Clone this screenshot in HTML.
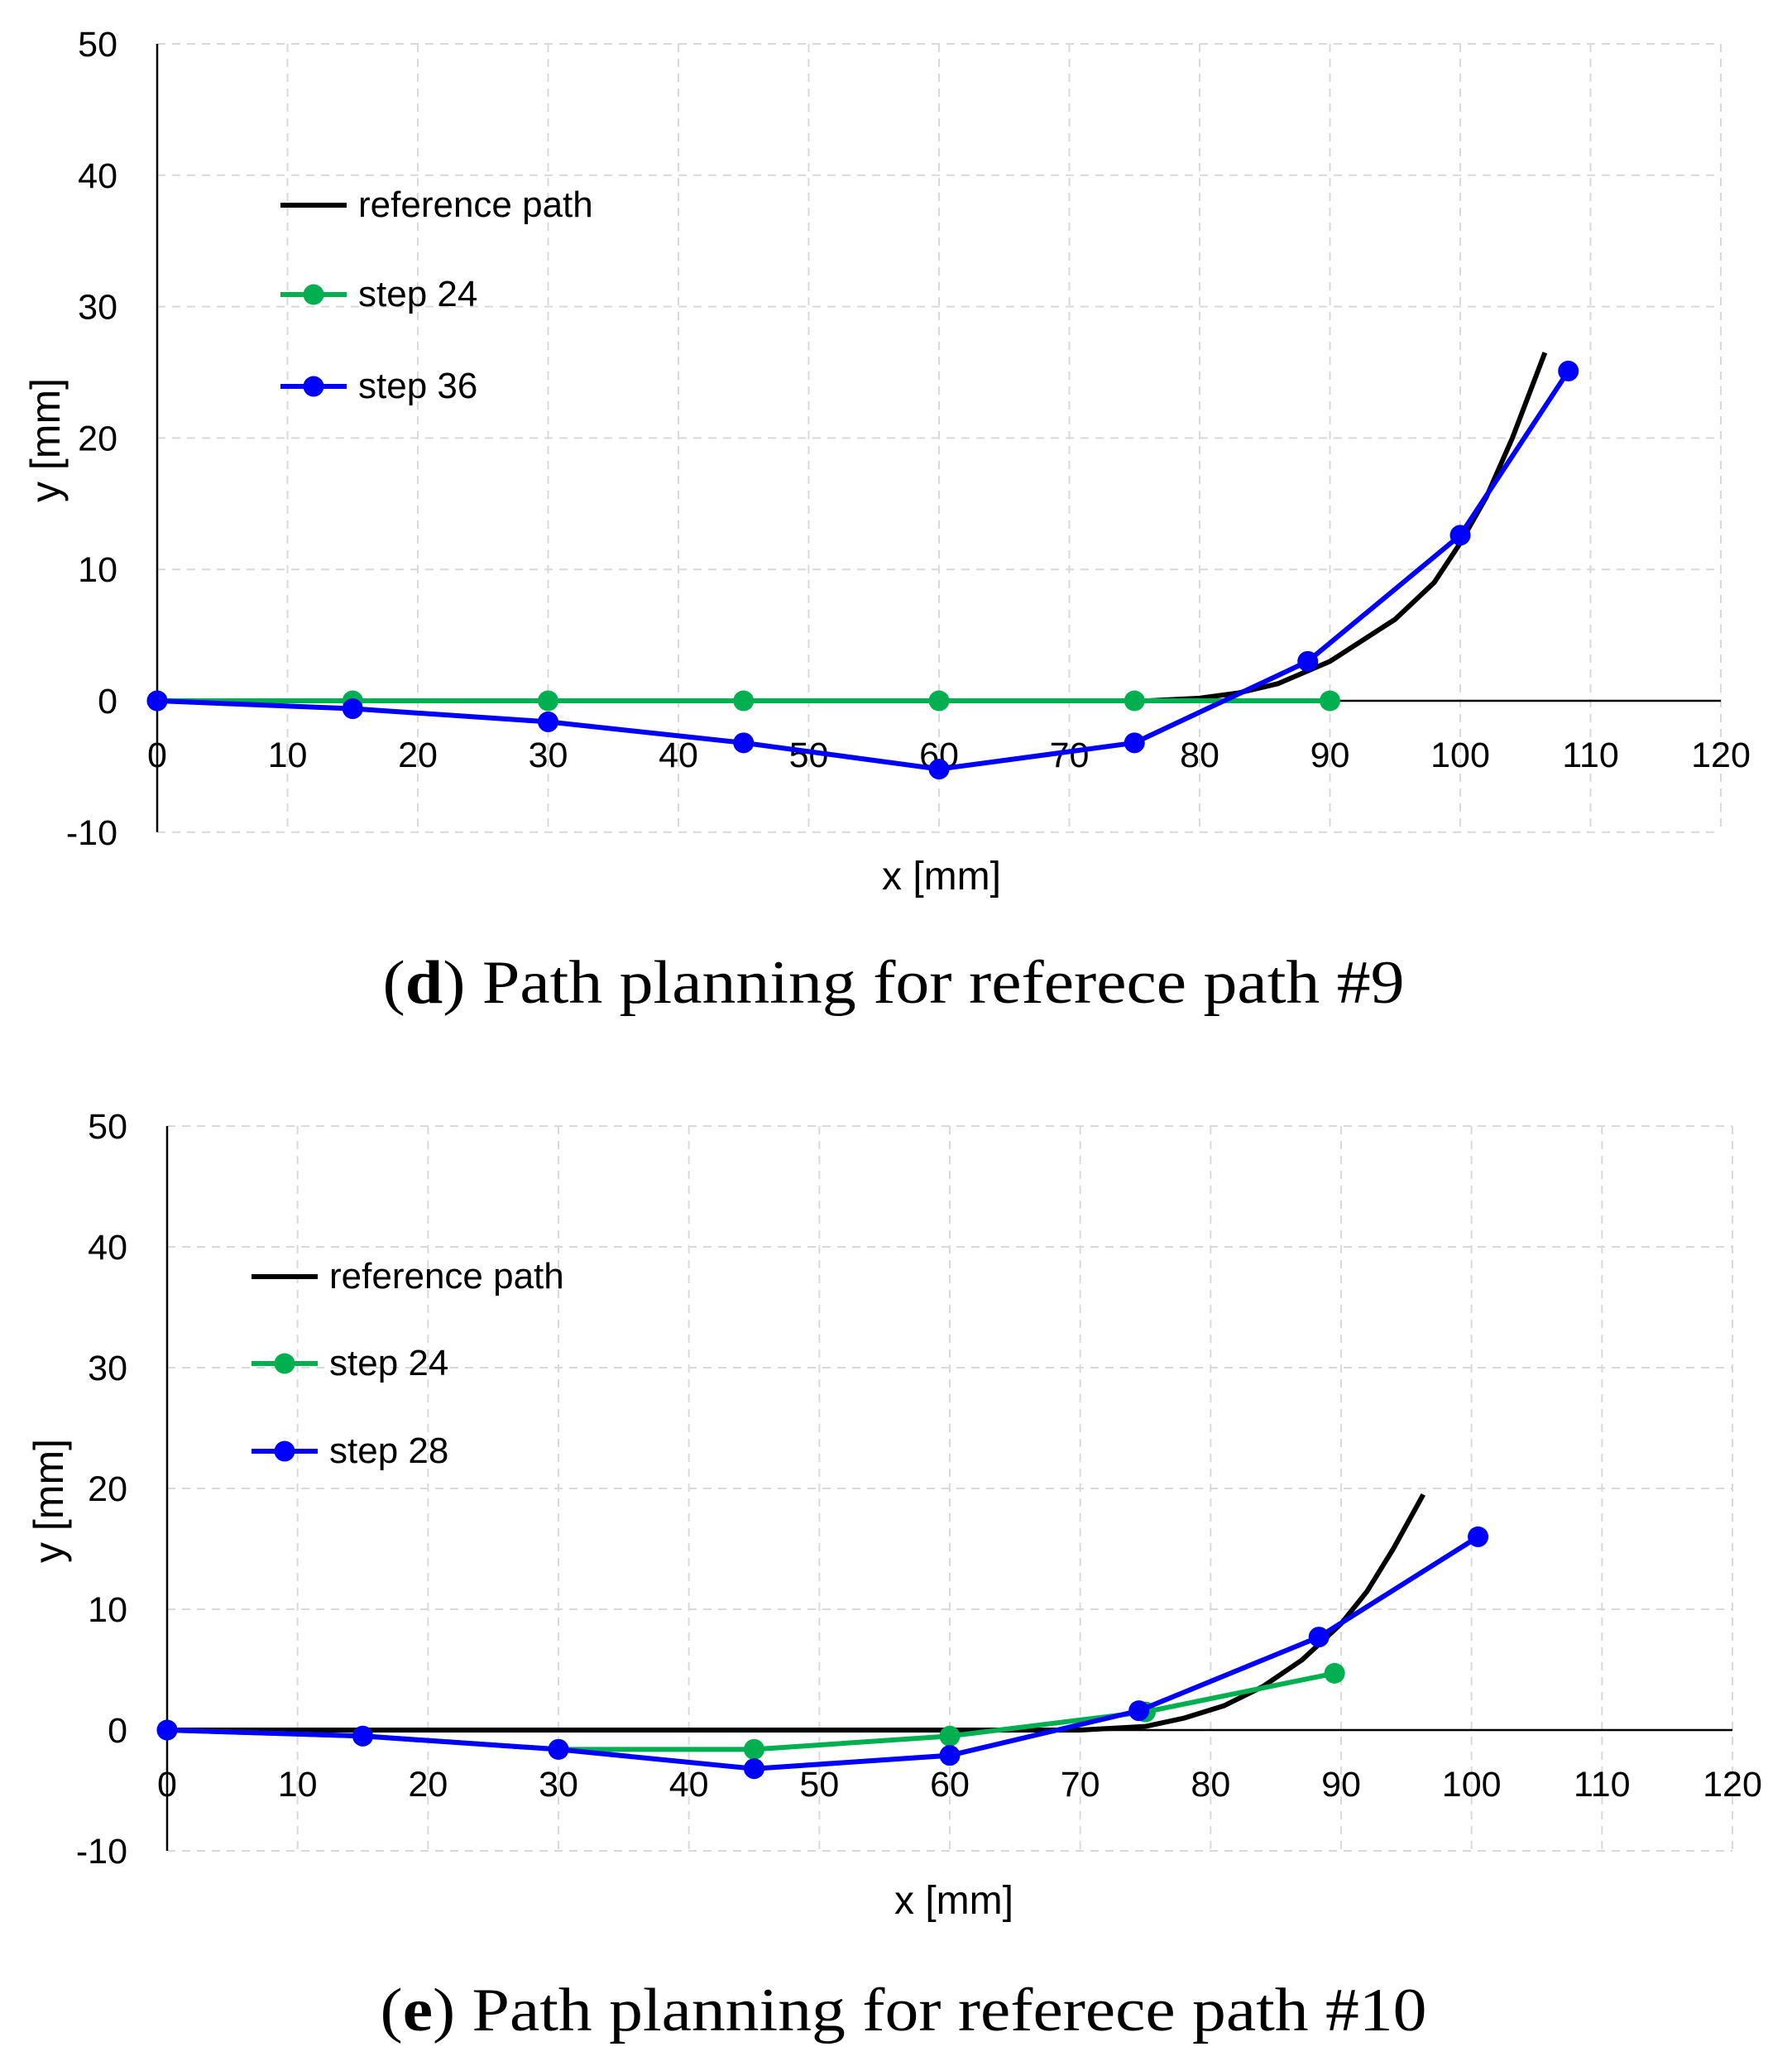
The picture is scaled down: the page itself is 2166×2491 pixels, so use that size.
<!DOCTYPE html>
<html><head><meta charset="utf-8"><style>
html,body{margin:0;padding:0;background:#fff}
svg{display:block}
text{font-family:"Liberation Sans",sans-serif}
text.serif{font-family:"Liberation Serif",serif}
</style></head><body>
<svg id="svg" width="2166" height="2491" viewBox="0 0 2166 2491" xmlns="http://www.w3.org/2000/svg"></svg>
<script>
const xTicks=[0,10,20,30,40,50,60,70,80,90,100,110,120];
const yTicks=[-10,0,10,20,30,40,50];
const dRefX=[0,20,40,60,76,80,83,86,90,95,98,100,102,104,106.5];
const dRefY=[0,0,0,0,0,0.2,0.6,1.3,3,6.2,9,12,15.5,20,26.5];
const dS1X=[0,15,30,45,60,75,90];
const dS1Y=[0,0,0,0,0,0,0];
const dS2X=[0,15,30,45,60,75,88.3,100,108.3];
const dS2Y=[0,-0.6,-1.6,-3.2,-5.2,-3.2,3,12.6,25.1];
const eRefX=[0,20,40,60,70,75,78,81,84,87,90,92,94,96.3];
const eRefY=[0,0,0,0,0,0.3,1,2,3.6,5.8,8.8,11.5,15,19.5];
const eS1X=[0,15,30,45,60,75,89.5];
const eS1Y=[0,-0.5,-1.6,-1.6,-0.5,1.5,4.7];
const eS2X=[0,15,30,45,60,74.5,88.3,100.5];
const eS2Y=[0,-0.5,-1.6,-3.2,-2.1,1.6,7.7,16];
const NS="http://www.w3.org/2000/svg";
const svg=document.getElementById('svg');
function mk(t,a,p){const e=document.createElementNS(NS,t);for(const k in a)e.setAttribute(k,a[k]);(p||svg).appendChild(e);return e;}
function chart(cfg){
  const g=mk('g',{});
  
  
  const sx=v=>cfg.x0+(cfg.x1-cfg.x0)*v/120;
  const sy=v=>cfg.yz-(v)*cfg.k;
  xTicks.forEach(t=>{if(t>0){const l=mk('line',{x1:sx(t),x2:sx(t),y1:sy(50),y2:sy(-10),stroke:'#d9d9d9','stroke-width':2,'stroke-dasharray':'10,8'},g);}});
  yTicks.forEach(t=>{if(t!==0){const l=mk('line',{x1:sx(0),x2:sx(120),y1:sy(t),y2:sy(t),stroke:'#d9d9d9','stroke-width':2,'stroke-dasharray':'10,8'},g);}});
  let a=mk('line',{x1:sx(0),x2:sx(120),y1:sy(0),y2:sy(0),stroke:'#000','stroke-width':2.5},g);
  
  a=mk('line',{x1:sx(0),x2:sx(0),y1:sy(50),y2:sy(-10),stroke:'#000','stroke-width':2.5},g);
  
  xTicks.forEach(t=>{const e=mk('text',{x:sx(t),y:sy(0)+80,'font-size':43,'text-anchor':'middle',fill:'#000'},g);e.textContent=t;});
  yTicks.forEach(t=>{const e=mk('text',{x:sx(0)-48,y:sy(t)+15,'font-size':43,'text-anchor':'end',fill:'#000'},g);e.textContent=t;});
  function series(X,Y,col,markers,nm){
    const pts=X.map((v,i)=>sx(v)+','+sy(Y[i])).join(' ');
    const p=mk('polyline',{points:pts,fill:'none',stroke:col,'stroke-width':6,'stroke-linejoin':'round'},g);
    
    if(markers)X.forEach((v,i)=>{const c=mk('circle',{cx:sx(v),cy:sy(Y[i]),r:12.5,fill:col},g);});
  }
  series(cfg.rx,cfg.ry,'#000',false,'reference-path');
  series(cfg.s1x,cfg.s1y,'#00b050',true,'step-24');
  series(cfg.s2x,cfg.s2y,'#0000ff',true,cfg.s2n.replace(' ','-'));
  const L=[['reference path','#000',false],['step 24','#00b050',true],[cfg.s2n,'#0000ff',true]];
  L.forEach((l,i)=>{const y=cfg.ly[i];
    const ln=mk('line',{x1:cfg.lx,x2:cfg.lx+80,y1:y,y2:y,stroke:l[1],'stroke-width':6},g);
    
    if(l[2]){const c=mk('circle',{cx:cfg.lx+40,cy:y,r:12.5,fill:l[1]},g);}
    const t=mk('text',{x:cfg.lx+94,y:y+14,'font-size':44,fill:'#000'},g);t.textContent=l[0];
    });
  let t=mk('text',{x:cfg.xt[0],y:cfg.xt[1],'font-size':48,'text-anchor':'middle',fill:'#000'},g);t.textContent='x [mm]';
  
  t=mk('text',{x:0,y:0,'font-size':50,'text-anchor':'middle',fill:'#000',transform:`translate(${cfg.yt[0]},${cfg.yt[1]}) rotate(-90)`},g);t.textContent='y [mm]';
  
  t=mk('text',{x:cfg.cap[0],y:cfg.cap[1],'font-size':74,'text-anchor':'middle',fill:'#000','class':'serif',textLength:cfg.capW,lengthAdjust:'spacingAndGlyphs'},g);
  t.innerHTML='(<tspan font-weight="bold">'+cfg.letter+'</tspan>) Path planning for referece path '+cfg.num;
  
}
chart({name:'chart-d',x0:190,x1:2080,yz:847,k:15.88,rx:dRefX,ry:dRefY,s1x:dS1X,s1y:dS1Y,s2x:dS2X,s2y:dS2Y,s2n:'step 36',
  lx:339,ly:[248,356,467],xt:[1138,1075],yt:[72,532],cap:[1080,1212],capW:1235,letter:'d',num:'#9'});
chart({name:'chart-e',x0:202,x1:2094,yz:2091,k:14.6,rx:eRefX,ry:eRefY,s1x:eS1X,s1y:eS1Y,s2x:eS2X,s2y:eS2Y,s2n:'step 28',
  lx:304,ly:[1543,1648,1754],xt:[1153,2313],yt:[76,1814],cap:[1092,2454],capW:1265,letter:'e',num:'#10'});
</script>
</body></html>
